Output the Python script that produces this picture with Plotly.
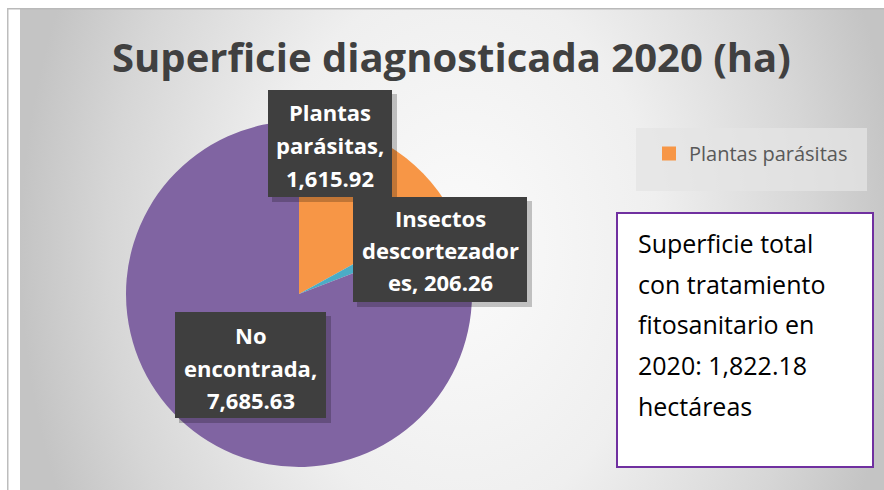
import plotly.graph_objects as go

# ---------------- data ----------------
categories = ["Plantas parásitas", "Insectos descortezadores", "No encontrada"]
values = [1615.92, 206.26, 7685.63]
colors = ["#F79646", "#4BACC6", "#8064A2"]
wrap_widths = [10, 13, 11]          # characters per line in each data label box
title_text = "Superficie diagnosticada 2020 (ha)"
legend_items = ["Plantas parásitas"]
note_lines = ["Superficie total", "con tratamiento", "fitosanitario en",
              "2020: 1,822.18", "hectáreas"]

# ---------------- layout constants (page pixels) ----------------
W, H = 884, 490
L, T = 7, 8                      # gray slide area starts here
FONT = "Open Sans"

def wrap(text, width):
    words = text.split(" ")
    lines, cur = [], ""
    for w in words:
        cand = (cur + " " + w).strip()
        if len(cand) <= width:
            cur = cand
            continue
        if cur:
            lines.append(cur)
        while len(w) > width:
            lines.append(w[:width])
            w = w[width:]
        cur = w
    if cur:
        lines.append(cur)
    return lines

def px(x):   # page x -> paper x
    return (x - L) / (W - L)

def py(y):   # page y -> paper y
    return (H - y) / (H - T)

fig = go.Figure()

# gradient background (radial)
gx0, gx1, gy0, gy1 = 20, 900, -350, 850
fig.add_trace(go.Scatter(
    x=[gx0, gx1, gx1, gx0, gx0], y=[gy0, gy0, gy1, gy1, gy0],
    mode="lines", line=dict(width=0), fill="toself",
    fillgradient=dict(type="radial",
                      colorscale=[[0, "#fbfbfb"], [0.45, "#efefef"], [0.8, "#d6d6d6"], [1, "#c4c4c4"]]),
    hoverinfo="skip", showlegend=False))

# pie
cx, cy, r = 299, 294, 173
fig.add_trace(go.Pie(
    labels=categories, values=values, sort=False, direction="clockwise",
    rotation=0, marker=dict(colors=colors, line=dict(width=0)),
    textinfo="none", showlegend=False,
    domain=dict(x=[px(cx - r), px(cx + r)], y=[py(cy + r), py(cy - r)])))

# legend (only first category visible as in the reference)
for name in legend_items:
    fig.add_trace(go.Scatter(
        x=[None], y=[None], mode="markers", name=name,
        marker=dict(symbol="square", size=14, color=colors[categories.index(name)])))

shapes = []
annotations = []

# borders of the slide area
shapes.append(dict(type="line", xref="x", yref="y", x0=L, x1=W, y0=T + 0.5, y1=T + 0.5,
                   line=dict(color="#b9b9b9", width=2), layer="above"))
shapes.append(dict(type="line", xref="x", yref="y", x0=L + 0.5, x1=L + 0.5, y0=T, y1=H,
                   line=dict(color="#bdbdbd", width=2), layer="above"))

# title
annotations.append(dict(text=f"<b>{title_text}</b>", xref="x", yref="y", x=451, y=56,
                        showarrow=False, font=dict(family=FONT, size=40, color="#404040"),
                        xanchor="center", yanchor="middle"))

# data label boxes
boxes = [(268, 392, 90, 197), (353, 527, 197, 302), (175, 326, 312, 418)]
line_centers = [[112, 145, 178], [218, 250, 282], [335, 368, 400]]
for i, (cat, val) in enumerate(zip(categories, values)):
    x0, x1, y0, y1 = boxes[i]
    shapes.append(dict(type="rect", xref="x", yref="y", x0=x0 + 4, x1=x1 + 5, y0=y0 + 4, y1=y1 + 5,
                       fillcolor="rgba(0,0,0,0.22)", line=dict(width=0), layer="above"))
    shapes.append(dict(type="rect", xref="x", yref="y", x0=x0, x1=x1, y0=y0, y1=y1,
                       fillcolor="#3f3f3f", line=dict(width=0), layer="above"))
    lines = wrap(f"{cat}, {val:,.2f}", wrap_widths[i])
    for ln, yc in zip(lines, line_centers[i]):
        annotations.append(dict(text=f"<b>{ln}</b>", xref="x", yref="y", x=(x0 + x1) / 2, y=yc,
                                showarrow=False, xanchor="center", yanchor="middle",
                                font=dict(family=FONT, size=22, color="white")))

# legend box
shapes.append(dict(type="rect", xref="x", yref="y", x0=636, x1=867, y0=128, y1=191,
                   fillcolor="rgba(228,228,228,0.75)", line=dict(width=0), layer="above"))

# note box
shapes.append(dict(type="rect", xref="x", yref="y", x0=617, x1=873, y0=213, y1=467,
                   fillcolor="white", line=dict(color="#7030A0", width=2), layer="above"))
for k, ln in enumerate(note_lines):
    annotations.append(dict(text=ln, xref="x", yref="y", x=636, y=243 + k * 40.7,
                            showarrow=False, xanchor="left", yanchor="middle",
                            font=dict(family=FONT, size=25, color="black")))

fig.update_layout(
    width=W, height=H,
    margin=dict(l=L, r=0, t=T, b=0),
    paper_bgcolor="white", plot_bgcolor="rgba(0,0,0,0)",
    xaxis=dict(range=[L, W], visible=False, fixedrange=True),
    yaxis=dict(range=[H, T], visible=False, fixedrange=True),
    shapes=shapes, annotations=annotations,
    showlegend=True,
    legend=dict(x=px(649), y=py(134), xanchor="left", yanchor="top",
                bgcolor="rgba(0,0,0,0)", font=dict(family=FONT, size=20, color="#595959"),
                itemwidth=30),
)

fig.write_html("out.html", config={"displayModeBar": False},
               post_script="document.body.style.margin='0';")
